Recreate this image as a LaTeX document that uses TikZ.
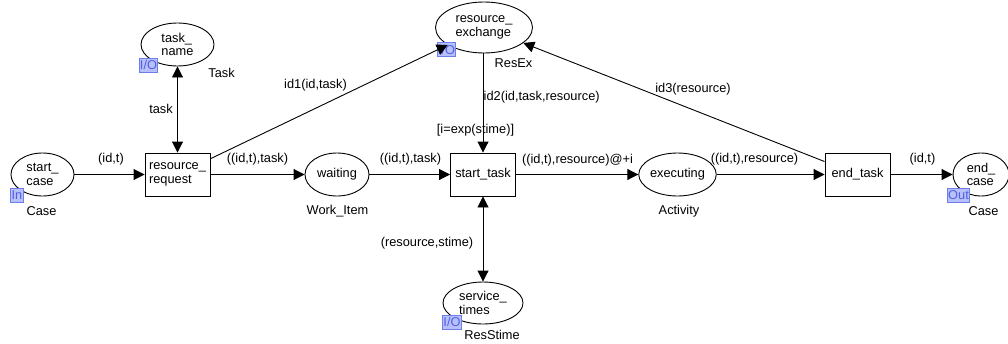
\documentclass[tikz,border=0pt]{standalone}
\usepackage{fontspec}
\setmainfont{Liberation Sans}
\usetikzlibrary{shapes.geometric,arrows.meta}
\definecolor{tagfill}{RGB}{184,192,250}
\definecolor{tagdraw}{RGB}{110,125,235}
\definecolor{tagtext}{RGB}{80,95,225}
\begin{document}
\begin{tikzpicture}[x=1pt,y=-1pt,
  every node/.style={font=\fontsize{12.8}{13.4}\selectfont},
  place/.style={draw,ellipse,line width=0.9pt,inner sep=0pt,align=left},
  trans/.style={draw,rectangle,line width=0.9pt,inner sep=0pt,align=left,
    minimum width=65pt,minimum height=43pt},
  port/.style={draw=tagdraw,fill=tagfill,text=tagtext,line width=0.8pt,
    inner sep=0.8pt,minimum height=14pt},
  lbl/.style={inner sep=0pt},
  arc/.style={line width=0.9pt,-{Triangle[length=11pt,width=11pt]}},
  biarc/.style={line width=0.9pt,{Triangle[length=11pt,width=11pt]}-{Triangle[length=11pt,width=11pt]}}
]
\useasboundingbox (0,0) rectangle (1008,343);

% places
\node[place,minimum width=63pt,minimum height=43pt] (sc) at (42.5,174.5) {start\_\\case};
\node[place,minimum width=73pt,minimum height=43pt] (tn) at (177.5,44.5) {task\_\\name};
\node[place,minimum width=97pt,minimum height=51pt] (rx) at (484,27.5) {resource\_\\exchange};
\node[place,minimum width=64pt,minimum height=43pt] (wt) at (337,174.5) {waiting};
\node[place,minimum width=63pt,minimum height=43pt] (ex) at (677.5,174.5) {executing};
\node[place,minimum width=56pt,minimum height=43pt] (ec) at (981,174.5) {end\_\\case};
\node[place,minimum width=80pt,minimum height=42pt] (sv) at (483,303) {service\_\\times};

% transitions
\node[trans] (rr) at (177.5,174.5) {resource\_\\request};
\node[trans] (st) at (483,174.5) {start\_task};
\node[trans] (et) at (857.5,174.5) {end\_task};

% port tags
\node[port] (pin) at (17,195) {In};
\node[port] (ptn) at (148.5,65) {I/O};
\node[port] (prx) at (446.5,49.5) {I/O};
\node[port] (pec) at (958.5,195) {Out};
\node[port] (psv) at (452,322) {I/O};

% colour sets
\node[lbl] (csc) at (41.5,211) {Case};
\node[lbl] (ctn) at (221.5,73) {Task};
\node[lbl] (crx) at (513.5,63) {ResEx};
\node[lbl] (cwt) at (337.5,211) {Work\_Item};
\node[lbl] (cex) at (679,211) {Activity};
\node[lbl] (cec) at (983.5,211) {Case};
\node[lbl] (csv) at (492,335) {ResStime};

% arcs
\draw[arc] (sc) -- (rr);
\draw[arc] (rr) -- (wt);
\draw[arc] (wt) -- (st);
\draw[arc] (st) -- (ex);
\draw[arc] (ex) -- (et);
\draw[arc] (et) -- (ec);
\draw[biarc] (tn) -- (rr);
\draw[biarc] (st) -- (sv);
\draw[arc] (rr) -- (rx);
\draw[arc] (et) -- (rx);
\draw[arc] (rx.south -| st) -- (st);

% arc inscriptions
\node[lbl] (a1) at (111,159) {(id,t)};
\node[lbl] (a2) at (257.5,159) {((id,t),task)};
\node[lbl] (a3) at (410.5,159) {((id,t),task)};
\node[lbl] (a4) at (577.5,160) {((id,t),resource)@+i};
\node[lbl] (a5) at (754.5,159) {((id,t),resource)};
\node[lbl] (a6) at (922.5,159) {(id,t)};
\node[lbl] (a7) at (161,109) {task};
\node[lbl] (a8) at (315.5,85) {id1(id,task)};
\node[lbl,anchor=west] (a9) at (483.5,97) {id2(id,task,resource)};
\node[lbl] (a10) at (693,89) {id3(resource)};
\node[lbl] (a11) at (427,243) {(resource,stime)};
\node[lbl] (g1) at (475.5,130) {[i=exp(stime)]};
\end{tikzpicture}
\end{document}
